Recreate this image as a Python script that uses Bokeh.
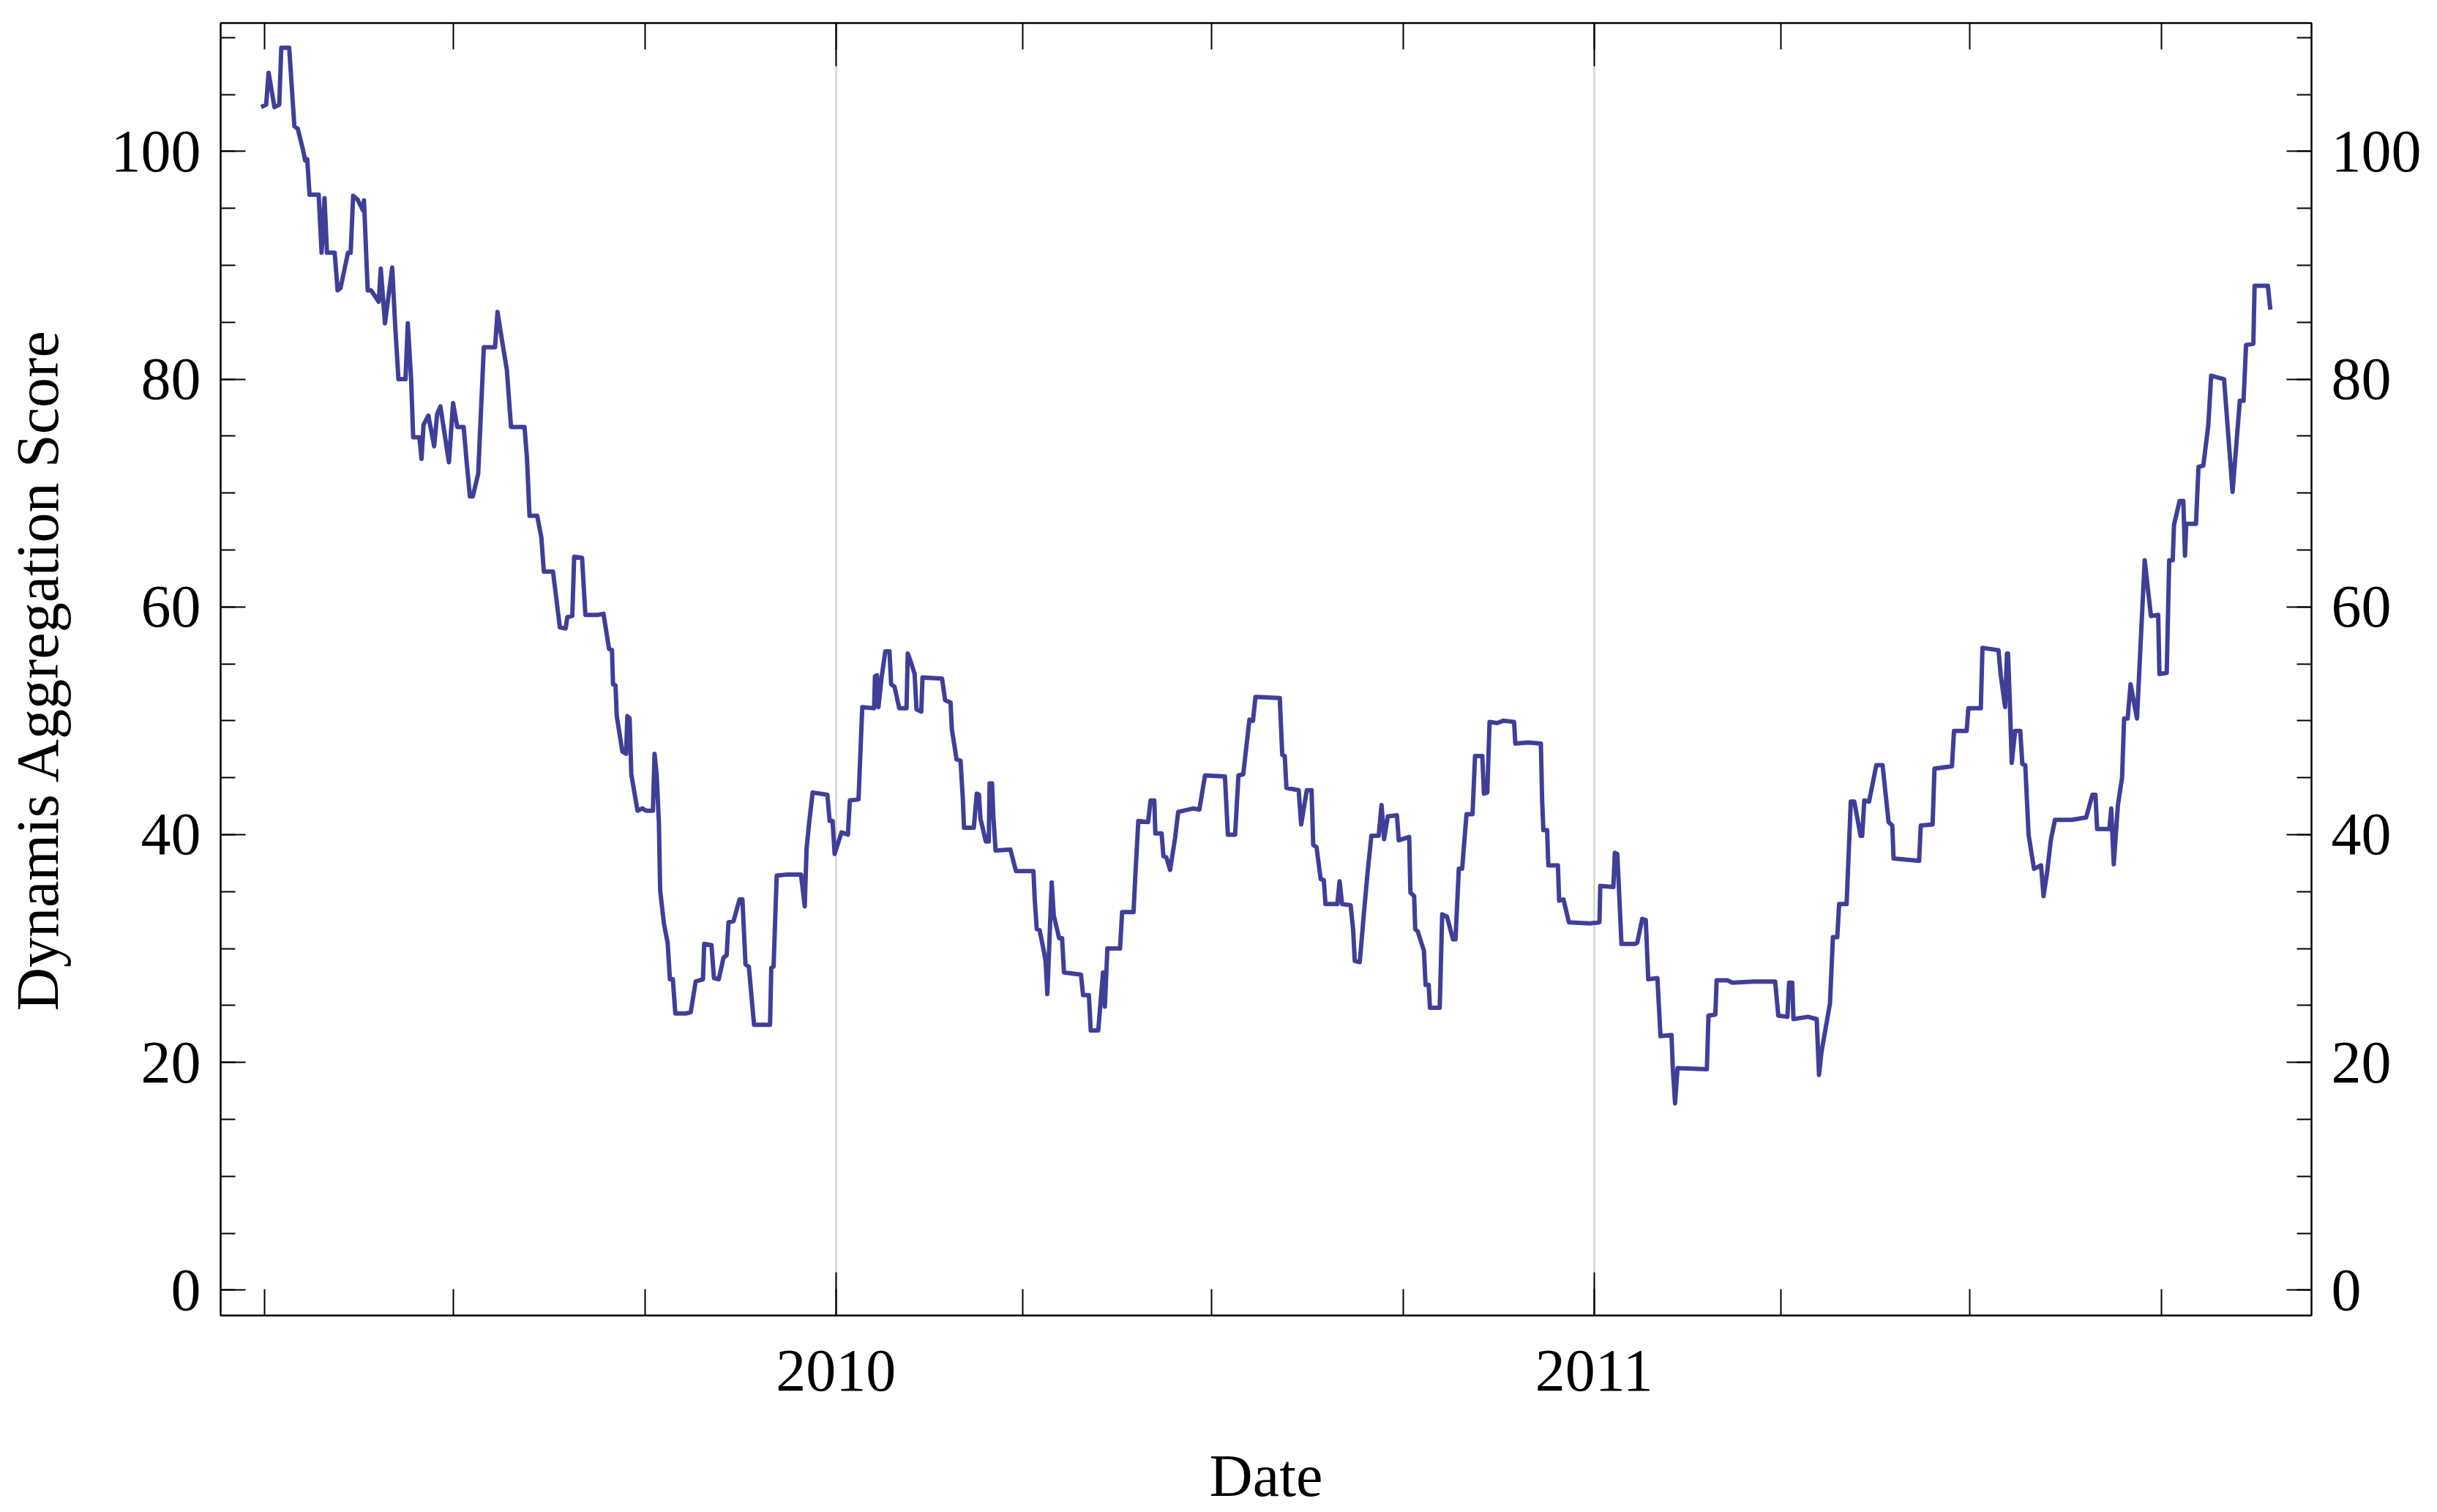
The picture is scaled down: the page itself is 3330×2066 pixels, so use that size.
import pandas as pd
from bokeh.plotting import figure
from bokeh.models import (FixedTicker, LinearAxis, Range1d, CustomJSTickFormatter,
                          DatetimeTickFormatter, ColumnDataSource)
from bokeh.embed import file_html
from bokeh.resources import INLINE

# ---- data (days since 2010-01-01, score) ----
days = [
    -276.7, -274.3, -273.1, -270.3, -268.0, -267.0, -263.2, -260.7, -259.1, -256.5,
    -255.5, -254.5, -253.4, -249.0, -247.6, -246.2, -245.0, -241.3, -239.9, -238.5,
    -234.9, -233.6, -232.4, -230.4, -227.6, -227.2, -225.4, -223.8, -220.1, -219.1,
    -217.1, -213.6, -212.2, -210.6, -207.2, -206.1, -204.5, -203.5, -200.5, -199.5,
    -198.5, -196.2, -193.4, -192.0, -190.4, -186.3, -184.3, -182.3, -179.2, -177.8,
    -176.2, -174.8, -172.2, -169.5, -164.1, -162.9, -161.0, -158.4, -156.4, -149.9,
    -148.7, -147.5, -143.8, -141.8, -140.6, -136.2, -134.9, -132.9, -130.1, -129.3,
    -126.9, -126.0, -122.2, -120.6,
    -114.5, -111.9, -109.2, -107.8, -107.3, -106.1, -105.5, -102.8, -101.0, -100.4,
    -99.3, -98.5, -95.5, -93.2, -91.3, -88.1, -87.3, -86.3, -85.2, -84.6,
    -82.8, -81.0, -79.9, -78.5, -77.3, -72.2, -69.9, -67.5, -64.0, -63.4,
    -59.9, -58.7, -56.4, -54.1, -52.6, -51.7, -49.3, -46.4, -45.0, -43.5,
    -41.9, -39.4, -31.7, -31.1, -30.0, -28.5, -23.5, -16.8, -15.0, -14.1,
    -12.9, -11.2, -4.1, -3.0, -1.6, -0.6, 2.7, 5.8, 6.7, 10.9,
    12.7, 18.4, 18.8, 19.8, 20.5, 22.0, 23.8, 25.8, 26.6, 28.2,
    30.5, 34.0, 34.6, 36.4, 37.9, 38.8, 41.1, 41.7, 51.1, 52.6,
    55.2, 55.8, 58.1, 60.0, 61.1, 61.7, 66.4, 67.8, 68.9, 69.6,
    72.2, 73.6, 74.0, 75.2, 75.8, 76.9, 84.0, 86.7, 95.1, 95.7,
    96.7, 98.1, 100.4, 101.0, 101.8, 103.9, 104.9, 107.5, 108.9, 109.8,
    118.0, 119.0, 121.8, 122.7, 126.3, 128.6, 129.5, 130.7, 136.8, 137.8,
    143.3, 144.1, 145.6, 150.3, 151.5, 153.3, 153.8, 156.8, 157.7, 159.1,
    160.9, 163.3, 164.8, 172.1, 175.0, 177.7, 187.3, 188.7, 192.2, 193.8,
    196.1, 199.1, 200.8, 202.0, 213.7, 214.9, 216.1, 216.9, 222.8, 224.0,
    226.7, 229.0, 229.8, 231.4, 233.4, 234.9, 235.7, 241.4, 242.5, 243.7,
    247.8, 249.0, 249.8, 252.2, 254.3, 256.0, 257.8, 261.3, 262.7, 263.9,
    265.7, 270.1, 271.0, 276.0, 276.6, 278.4, 278.9, 280.1, 283.1, 283.9,
    285.4, 286.0, 290.7, 291.9, 294.2, 297.1, 298.3, 299.9, 301.5, 303.6,
    306.5, 307.7, 311.2, 312.0, 313.6, 314.7, 318.3, 321.2, 326.5, 327.1,
    333.2, 339.4, 340.0, 340.6, 342.4, 343.0, 347.6, 348.2, 350.3, 352.9,
    362.9, 367.6, 368.0, 374.3, 375.0, 376.2, 377.0, 378.2, 384.6, 385.8,
    388.2, 389.9, 391.1, 395.5, 397.0, 402.3, 402.9, 404.0, 405.2, 419.3,
    420.1, 423.4, 424.0, 429.3, 431.6, 441.6, 452.2, 453.7, 458.1, 458.9,
    460.4, 461.0, 468.0, 472.2, 473.3, 474.5, 478.6, 480.0, 482.1, 483.0,
    486.6, 488.6, 490.3, 493.3, 494.1, 495.1, 497.4, 500.9, 503.9, 506.8,
    508.6, 509.2, 521.5, 522.3, 528.0, 528.9, 537.3, 538.3, 544.4, 545.2,
    551.2, 552.0, 559.7, 560.8, 562.9, 563.8, 564.3, 565.2, 566.1, 567.7,
    570.2, 571.2, 572.6, 574.2, 576.8, 580.2, 581.4, 583.2, 584.9, 586.9,
    594.9, 601.9, 604.9, 606.4, 607.2, 613.1, 614.0, 615.2, 617.2, 619.2,
    620.2, 621.9, 623.3, 626.4, 627.8, 630.1, 633.1, 636.6, 637.2, 640.7,
    641.9, 643.6, 644.2, 646.9, 648.7, 649.5, 650.1, 654.8, 656.0, 658.3,
    660.7, 662.1, 668.3, 672.4, 675.9, 677.7, 678.9, 682.4, 683.0, 689.4,
    690.6,
]

score = [
    103.9, 104.1, 106.9, 103.9, 104.1, 109.1, 109.1, 102.2, 102.0, 100.1,
    99.2, 99.3, 96.2, 96.2, 91.1, 95.9, 91.1, 91.1, 87.8, 88.0,
    91.1, 91.1, 96.1, 95.8, 94.8, 95.7, 87.8, 87.8, 86.8, 89.7,
    84.9, 89.8, 84.8, 80.0, 80.0, 84.9, 80.0, 74.9, 74.9, 73.0,
    76.0, 76.8, 74.1, 76.9, 77.6, 72.7, 77.9, 75.8, 75.8, 72.8,
    69.7, 69.7, 71.7, 82.8, 82.8, 85.9, 83.7, 80.8, 75.8, 75.8,
    73.0, 68.0, 68.0, 66.1, 63.1, 63.1, 61.2, 58.2, 58.1, 59.1,
    59.2, 64.4, 64.3, 59.3,
    59.3, 59.4, 56.3, 56.2, 53.2, 53.1, 50.4, 47.3, 47.1, 50.4,
    50.2, 45.3, 42.1, 42.3, 42.1, 42.1, 47.1, 45.3, 41.0, 35.1,
    32.2, 30.5, 27.3, 27.3, 24.3, 24.3, 24.4, 27.1, 27.3, 30.4,
    30.3, 27.4, 27.3, 29.2, 29.4, 32.3, 32.4, 34.3, 34.3, 28.6,
    28.4, 23.3, 23.3, 28.3, 28.4, 36.4, 36.5, 36.5, 33.7, 38.8,
    41.0, 43.7, 43.5, 41.2, 41.2, 38.3, 40.2, 40.0, 43.0, 43.1,
    51.2, 51.1, 53.9, 54.0, 51.2, 53.8, 56.1, 56.1, 53.2, 53.0,
    51.1, 51.1, 55.9, 55.0, 54.1, 51.0, 50.8, 53.8, 53.7, 51.8,
    51.6, 49.3, 46.6, 46.5, 43.2, 40.6, 40.6, 43.6, 43.5, 41.4,
    39.4, 39.4, 44.5, 44.5, 41.6, 38.6, 38.7, 36.8, 36.8, 34.4,
    31.7, 31.6, 29.5, 28.8, 26.0, 35.8, 32.9, 30.9, 30.9, 27.9,
    27.7, 25.9, 25.9, 22.8, 22.8, 27.9, 24.9, 30.0, 30.0, 33.2,
    33.2, 36.2, 41.2, 41.1, 43.0, 43.0, 40.1, 40.1, 38.1, 38.0,
    36.9, 39.7, 42.0, 42.3, 42.2, 45.2, 45.1, 40.0, 40.0, 45.2,
    45.3, 50.1, 50.0, 52.1, 52.0, 47.0, 46.9, 44.1, 43.9, 40.9,
    43.9, 43.9, 39.1, 38.9, 36.1, 36.0, 33.9, 33.9, 35.9, 33.9,
    33.8, 31.7, 28.9, 28.8, 33.3, 36.7, 39.9, 39.9, 42.6, 39.6,
    41.6, 41.7, 39.5, 39.8, 34.9, 34.6, 31.7, 31.5, 29.8, 26.8,
    26.8, 24.8, 24.8, 33.0, 32.8, 30.8, 30.8, 37.0, 37.0, 41.8,
    41.8, 46.9, 46.9, 43.6, 43.7, 49.9, 49.8, 50.0, 49.9, 48.0,
    48.1, 48.0, 43.1, 40.4, 40.4, 37.3, 37.3, 34.2, 34.3, 32.3,
    32.2, 32.3, 35.5, 35.4, 38.4, 38.3, 35.2, 30.4, 30.4, 30.5,
    32.6, 32.5, 27.3, 27.4, 22.3, 22.4, 19.5, 16.4, 19.5, 19.4,
    24.1, 24.2, 27.2, 27.2, 27.0, 27.1, 27.1, 24.1, 24.0, 27.0,
    27.0, 23.8, 24.0, 23.8, 18.9, 20.9, 25.2, 31.0, 31.0, 33.9,
    33.9, 42.9, 42.9, 39.9, 39.9, 43.0, 42.9, 46.1, 46.1, 41.1,
    40.8, 37.9, 37.7, 40.8, 40.9, 45.8, 46.0, 49.1, 49.1, 51.1,
    51.1, 56.4, 56.2, 54.0, 51.2, 55.9, 55.9, 51.5, 46.3, 49.1,
    49.1, 46.2, 46.1, 40.0, 37.0, 37.3, 34.6, 36.8, 39.5, 41.3,
    41.3, 41.5, 43.5, 43.5, 40.5, 40.5, 42.3, 37.4, 42.6, 45.0,
    50.2, 50.2, 53.2, 50.2, 55.5, 64.1, 59.2, 59.3, 54.1, 54.2,
    64.1, 64.1, 67.2, 69.3, 69.3, 64.5, 67.3, 67.3, 72.3, 72.4,
    75.9, 80.3, 80.0, 70.1, 78.1, 78.1, 83.0, 83.1, 88.2, 88.2,
    86.1,
]

year_ticks = ["2010-01-01", "2011-01-01"]
quarter_ticks = ["2009-04-01", "2009-07-01", "2009-10-01", "2010-01-01",
                 "2010-04-01", "2010-07-01", "2010-10-01", "2011-01-01",
                 "2011-04-01", "2011-07-01", "2011-10-01"]
y_major = [0, 20, 40, 60, 80, 100]
y_minor = [0, 5, 10, 15, 20, 25, 30, 35, 40, 45, 50, 55,
           60, 65, 70, 75, 80, 85, 90, 95, 100, 105, 110]

# ---- build ----
base = pd.Timestamp("2010-01-01")
dates = base + pd.to_timedelta(days, unit="D")
src = ColumnDataSource(data=dict(date=dates, score=score))


def ms(t):
    return pd.Timestamp(t).value / 1e6


x_start = ms(base - pd.Timedelta(days=296.2))
x_end = ms(base + pd.Timedelta(days=710.4))

FONT = "Liberation Serif"
FS = "82px"

p = figure(width=3330, height=2066, x_axis_type="datetime",
           output_backend="svg", toolbar_location=None,
           x_range=Range1d(x_start, x_end), y_range=Range1d(-2.23, 111.27),
           min_border_left=301, min_border_right=172,
           min_border_top=31, min_border_bottom=269)
p.background_fill_color = "white"
p.border_fill_color = "white"
p.outline_line_color = "black"
p.outline_line_width = 2
p.outline_line_alpha = 1.0

xt = FixedTicker(ticks=[ms(t) for t in year_ticks],
                 minor_ticks=[ms(t) for t in quarter_ticks])
yt = FixedTicker(ticks=y_major, minor_ticks=y_minor)


def style(ax, major_in, minor_in):
    ax.axis_line_color = "black"
    ax.axis_line_width = 2
    ax.major_tick_line_color = "black"
    ax.major_tick_line_width = 2
    ax.minor_tick_line_color = "black"
    ax.minor_tick_line_width = 2
    ax.major_tick_in = major_in
    ax.major_tick_out = 0
    ax.minor_tick_in = minor_in
    ax.minor_tick_out = 0
    ax.major_label_text_font = FONT
    ax.major_label_text_font_size = FS
    ax.major_label_text_color = "black"
    ax.major_label_standoff = 27
    ax.axis_label_text_font = FONT
    ax.axis_label_text_font_size = FS
    ax.axis_label_text_font_style = "normal"
    ax.axis_label_text_color = "black"


# bottom axis
xa = p.xaxis[0]
xa.ticker = xt
xa.formatter = DatetimeTickFormatter(
    years="%Y", months="%Y", days="%Y", hours="%Y", hourmin="%Y",
    minutes="%Y", minsec="%Y", seconds="%Y", milliseconds="%Y", microseconds="%Y")
style(xa, 59, 36)
xa.major_label_standoff = 48
xa.axis_label = "Date"
xa.axis_label_standoff = 68

# top axis (ticks only)
xtop = LinearAxis(ticker=xt, formatter=CustomJSTickFormatter(code="return ''"))
style(xtop, 59, 36)
xtop.major_label_text_font_size = "0px"
xtop.major_label_standoff = 0
p.add_layout(xtop, "above")

# left axis
ya = p.yaxis[0]
ya.ticker = yt
style(ya, 34, 20)
ya.axis_label = "Dynamis Aggregation Score"
ya.axis_label_standoff = 52

# right axis
yr = LinearAxis(ticker=yt)
style(yr, 34, 20)
p.add_layout(yr, "right")

# grid
p.xgrid[0].ticker = xt
p.xgrid.grid_line_color = "#cccccc"
p.xgrid.grid_line_width = 2
p.ygrid.grid_line_color = None

p.line(x="date", y="score", source=src, line_color="#3f3f99",
       line_width=6, line_join="round")

open("out.html", "w").write(file_html(p, INLINE))
